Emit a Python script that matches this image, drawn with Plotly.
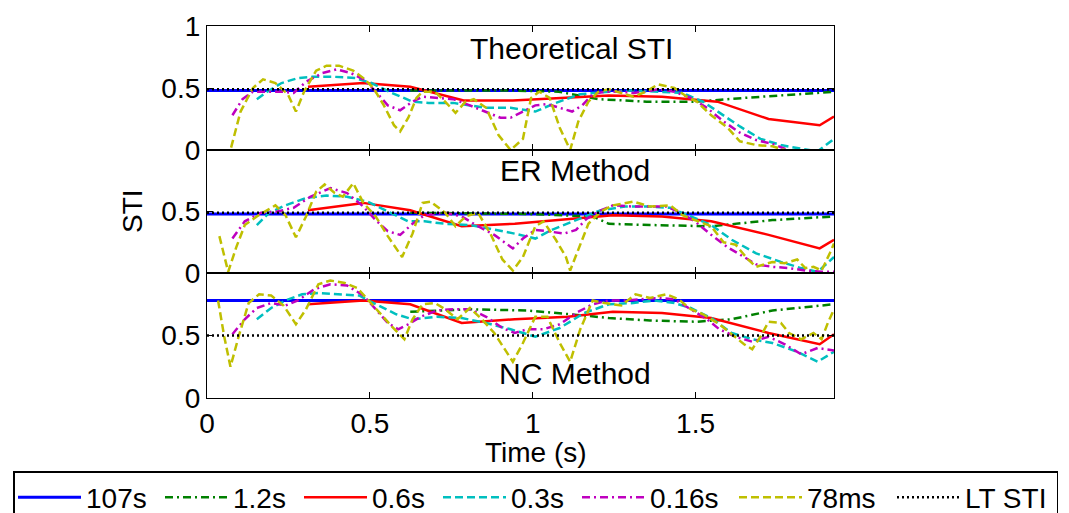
import plotly.graph_objects as go
from plotly.subplots import make_subplots

# ---------------- data ----------------
T_END = 1.925
blue_t = [0.0, 0.5, 1.0, 1.5, 1.925]
blue_theo = [0.48, 0.48, 0.48, 0.48, 0.48]
blue_er = [0.48, 0.48, 0.48, 0.48, 0.48]
blue_nc = [0.78, 0.78, 0.78, 0.78, 0.78]
lt_theo = [0.49, 0.49, 0.49, 0.49, 0.49]
lt_er = [0.49, 0.49, 0.49, 0.49, 0.49]
lt_nc = [0.50, 0.50, 0.50, 0.50, 0.50]

# 1.2s window (green)
g_t_theo = [0.624, 0.93, 1.08, 1.20, 1.35, 1.50, 1.65, 1.80, 1.925]
g_theo = [0.48, 0.48, 0.47, 0.41, 0.39, 0.39, 0.42, 0.45, 0.47]
g_t_er = [0.624, 0.983, 1.184, 1.234, 1.360, 1.548, 1.736, 1.925]
g_er = [0.49, 0.48, 0.46, 0.40, 0.39, 0.38, 0.43, 0.46]
g_t_nc = [0.624, 0.807, 0.983, 1.083, 1.158, 1.234, 1.360, 1.504, 1.611, 1.736, 1.925]
g_nc = [0.69, 0.71, 0.70, 0.68, 0.66, 0.64, 0.62, 0.61, 0.63, 0.70, 0.75]

# 0.6s window (red)
r_t_theo = [0.310, 0.480, 0.624, 0.788, 0.939, 1.108, 1.234, 1.397, 1.485, 1.567, 1.724, 1.881, 1.925]
r_theo = [0.51, 0.54, 0.51, 0.40, 0.40, 0.42, 0.44, 0.43, 0.41, 0.39, 0.25, 0.20, 0.27]
r_t_er = [0.310, 0.480, 0.624, 0.782, 0.945, 1.108, 1.246, 1.397, 1.548, 1.724, 1.881, 1.925]
r_er = [0.51, 0.57, 0.51, 0.38, 0.40, 0.44, 0.47, 0.46, 0.42, 0.31, 0.20, 0.27]
r_t_nc = [0.310, 0.480, 0.624, 0.782, 0.945, 1.108, 1.246, 1.397, 1.548, 1.724, 1.881, 1.925]
r_nc = [0.75, 0.78, 0.75, 0.60, 0.63, 0.65, 0.69, 0.68, 0.64, 0.52, 0.43, 0.51]

# 0.3s window (cyan)
c_t_theo = [0.153, 0.185, 0.229, 0.279, 0.323, 0.392, 0.455, 0.505, 0.568, 0.631, 0.681, 0.756,
            0.857, 0.932, 1.008, 1.071, 1.146, 1.234, 1.309, 1.397, 1.460, 1.523, 1.586, 1.636,
            1.699, 1.762, 1.824, 1.875, 1.925]
c_theo = [0.41, 0.47, 0.54, 0.58, 0.59, 0.59, 0.58, 0.54, 0.46, 0.39, 0.38, 0.38,
          0.34, 0.34, 0.31, 0.38, 0.45, 0.47, 0.48, 0.47, 0.46, 0.39, 0.28, 0.19,
          0.09, 0.04, 0.01, -0.01, 0.09]
c_t_er = [0.153, 0.191, 0.241, 0.304, 0.367, 0.430, 0.493, 0.555, 0.618, 0.668, 0.731, 0.807,
          0.882, 0.945, 1.008, 1.058, 1.133, 1.209, 1.284, 1.360, 1.422, 1.485, 1.548, 1.611,
          1.686, 1.762, 1.824, 1.875, 1.925]
c_er = [0.39, 0.49, 0.55, 0.61, 0.63, 0.62, 0.58, 0.50, 0.42, 0.42, 0.40, 0.39,
        0.35, 0.32, 0.28, 0.35, 0.43, 0.51, 0.54, 0.54, 0.53, 0.46, 0.39, 0.27,
        0.16, 0.09, 0.04, 0.01, 0.13]
c_t_nc = [0.153, 0.197, 0.241, 0.292, 0.342, 0.405, 0.467, 0.518, 0.581, 0.631, 0.706, 0.782,
          0.857, 0.932, 1.008, 1.083, 1.158, 1.234, 1.309, 1.372, 1.435, 1.485, 1.548, 1.611,
          1.674, 1.736, 1.812, 1.875, 1.925]
c_nc = [0.63, 0.72, 0.78, 0.83, 0.84, 0.83, 0.82, 0.75, 0.67, 0.63, 0.65, 0.64,
        0.60, 0.55, 0.49, 0.56, 0.68, 0.75, 0.76, 0.78, 0.76, 0.72, 0.64, 0.52,
        0.47, 0.44, 0.37, 0.29, 0.37]

# 0.16s window (magenta)
m_t_theo = [0.078, 0.109, 0.141, 0.178, 0.229, 0.266, 0.304, 0.354, 0.398, 0.442, 0.480, 0.518,
            0.555, 0.593, 0.631, 0.662, 0.706, 0.756, 0.807, 0.857, 0.901, 0.932, 0.970, 1.008,
            1.045, 1.083, 1.121, 1.152, 1.184, 1.221, 1.272, 1.309, 1.347, 1.385, 1.435, 1.485,
            1.535, 1.586, 1.636, 1.686, 1.736, 1.774, 1.799]
m_theo = [0.28, 0.41, 0.47, 0.47, 0.47, 0.46, 0.55, 0.62, 0.65, 0.62, 0.57, 0.47,
          0.36, 0.32, 0.39, 0.43, 0.42, 0.41, 0.36, 0.31, 0.26, 0.26, 0.31, 0.36,
          0.37, 0.34, 0.31, 0.36, 0.45, 0.47, 0.47, 0.46, 0.47, 0.49, 0.47, 0.42,
          0.34, 0.23, 0.14, 0.08, 0.05, 0.01, -0.01]
m_t_er = [0.078, 0.116, 0.166, 0.216, 0.266, 0.317, 0.379, 0.430, 0.480, 0.518, 0.555, 0.593,
          0.631, 0.668, 0.731, 0.782, 0.832, 0.882, 0.939, 0.970, 1.008, 1.045, 1.096, 1.133,
          1.165, 1.209, 1.246, 1.309, 1.360, 1.410, 1.448, 1.498, 1.548, 1.598, 1.649, 1.686,
          1.736, 1.787, 1.837, 1.887, 1.925]
m_er = [0.28, 0.42, 0.49, 0.50, 0.53, 0.62, 0.69, 0.65, 0.54, 0.43, 0.34, 0.31,
        0.40, 0.47, 0.49, 0.46, 0.38, 0.31, 0.20, 0.28, 0.35, 0.34, 0.32, 0.35,
        0.44, 0.51, 0.55, 0.54, 0.54, 0.54, 0.50, 0.42, 0.31, 0.21, 0.13, 0.07,
        0.05, 0.04, 0.02, 0.01, 0.01]
m_t_nc = [0.078, 0.116, 0.153, 0.197, 0.241, 0.279, 0.329, 0.379, 0.430, 0.480, 0.518, 0.555,
          0.587, 0.618, 0.656, 0.706, 0.756, 0.807, 0.857, 0.907, 0.945, 0.983, 1.033, 1.083,
          1.133, 1.184, 1.234, 1.284, 1.334, 1.385, 1.435, 1.485, 1.535, 1.573, 1.623, 1.674,
          1.724, 1.774, 1.824, 1.875, 1.925]
m_nc = [0.51, 0.63, 0.72, 0.76, 0.74, 0.78, 0.87, 0.91, 0.90, 0.82, 0.71, 0.60,
        0.55, 0.59, 0.65, 0.70, 0.71, 0.71, 0.65, 0.56, 0.52, 0.55, 0.55, 0.59,
        0.68, 0.75, 0.78, 0.78, 0.79, 0.80, 0.79, 0.71, 0.63, 0.55, 0.49, 0.45,
        0.49, 0.43, 0.35, 0.40, 0.38]

# 78ms window (yellow)
y_t_theo = [0.039, 0.072, 0.103, 0.141, 0.172, 0.210, 0.248, 0.273, 0.298, 0.335, 0.367, 0.405,
            0.449, 0.480, 0.511, 0.543, 0.574, 0.593, 0.618, 0.643, 0.662, 0.700, 0.731, 0.763,
            0.794, 0.819, 0.857, 0.895, 0.932, 0.970, 0.995, 1.020, 1.052, 1.083, 1.115, 1.140,
            1.171, 1.202, 1.234, 1.272, 1.309, 1.347, 1.385, 1.435, 1.473, 1.504, 1.548, 1.598,
            1.636, 1.686, 1.736, 1.774, 1.82]
y_theo = [-0.15, 0.00, 0.31, 0.50, 0.57, 0.54, 0.45, 0.31, 0.47, 0.64, 0.68, 0.68,
          0.64, 0.58, 0.50, 0.36, 0.20, 0.15, 0.26, 0.42, 0.47, 0.47, 0.39, 0.30,
          0.39, 0.41, 0.34, 0.12, 0.00, 0.09, 0.42, 0.47, 0.42, 0.18, 0.00, 0.23,
          0.39, 0.47, 0.49, 0.46, 0.43, 0.47, 0.53, 0.50, 0.43, 0.39, 0.28, 0.18,
          0.07, 0.04, 0.03, 0.00, -0.04]
y_t_er = [0.038, 0.065, 0.090, 0.116, 0.153, 0.210, 0.241, 0.273, 0.304, 0.335, 0.361, 0.392,
          0.417, 0.449, 0.480, 0.518, 0.555, 0.599, 0.631, 0.662, 0.687, 0.731, 0.763, 0.794,
          0.832, 0.870, 0.907, 0.939, 0.970, 1.008, 1.033, 1.071, 1.102, 1.115, 1.140, 1.171,
          1.209, 1.246, 1.309, 1.360, 1.422, 1.460, 1.498, 1.548, 1.586, 1.623, 1.661, 1.686,
          1.736, 1.774, 1.812, 1.837, 1.862, 1.887, 1.912, 1.925]
y_er = [0.30, 0.01, 0.21, 0.39, 0.46, 0.55, 0.47, 0.29, 0.46, 0.66, 0.72, 0.65,
        0.62, 0.73, 0.57, 0.46, 0.30, 0.13, 0.32, 0.57, 0.58, 0.49, 0.38, 0.46,
        0.49, 0.32, 0.11, 0.02, 0.13, 0.38, 0.42, 0.27, 0.13, 0.02, 0.19, 0.40,
        0.50, 0.55, 0.58, 0.54, 0.55, 0.47, 0.43, 0.38, 0.25, 0.23, 0.11, 0.05,
        0.09, 0.08, 0.11, 0.04, 0.05, 0.02, 0.16, 0.24]
y_t_nc = [0.034, 0.053, 0.072, 0.097, 0.128, 0.160, 0.197, 0.235, 0.273, 0.304, 0.342, 0.379,
          0.423, 0.461, 0.493, 0.530, 0.568, 0.606, 0.631, 0.662, 0.700, 0.731, 0.769, 0.807,
          0.844, 0.882, 0.913, 0.939, 0.970, 1.008, 1.045, 1.083, 1.115, 1.146, 1.184, 1.221,
          1.272, 1.316, 1.360, 1.410, 1.448, 1.485, 1.523, 1.573, 1.611, 1.649, 1.674, 1.699,
          1.724, 1.762, 1.787, 1.824, 1.862, 1.887, 1.906, 1.925]
y_nc = [0.78, 0.49, 0.25, 0.49, 0.76, 0.83, 0.82, 0.74, 0.59, 0.71, 0.91, 0.94,
        0.92, 0.88, 0.79, 0.68, 0.57, 0.47, 0.63, 0.75, 0.76, 0.71, 0.63, 0.72,
        0.63, 0.52, 0.39, 0.29, 0.44, 0.65, 0.65, 0.44, 0.29, 0.55, 0.78, 0.76,
        0.74, 0.83, 0.80, 0.83, 0.79, 0.71, 0.67, 0.59, 0.51, 0.43, 0.39, 0.49,
        0.61, 0.60, 0.52, 0.47, 0.52, 0.47, 0.60, 0.71]

legend_names = ["107s", "1.2s", "0.6s", "0.3s", "0.16s", "78ms", "LT STI"]
panel_titles = ["Theoretical STI", "ER Method", "NC Method"]
x_ticks = [0, 0.5, 1, 1.5]
x_ticktext = ["0", "0.5", "1", "1.5"]

# ---------------- styling ----------------
FONT = "Liberation Sans, Arial, Helvetica, sans-serif"
W, HGT = 1069, 513
PL, PR, PT, PB = 207, 834, 26, 398     # plot-area pixel box
H = float(PB - PT)

styles = [
    dict(color="#0000FF", width=3, dash="solid"),
    dict(color="#008000", width=2.5, dash="8px,4px,2px,4px"),
    dict(color="#FF0000", width=2.5, dash="solid"),
    dict(color="#00BFBF", width=2.5, dash="8px,4px"),
    dict(color="#BF00BF", width=2.5, dash="8px,4px,2px,4px"),
    dict(color="#BFBF00", width=2.5, dash="8px,4px"),
    dict(color="#000000", width=2.5, dash="2px,3px"),
]
legend_widths = [69, 61, 61, 61, 79, 80, 86]

panels = [
    [(blue_t, blue_theo), (g_t_theo, g_theo), (r_t_theo, r_theo), (c_t_theo, c_theo),
     (m_t_theo, m_theo), (y_t_theo, y_theo), (blue_t, lt_theo)],
    [(blue_t, blue_er), (g_t_er, g_er), (r_t_er, r_er), (c_t_er, c_er),
     (m_t_er, m_er), (y_t_er, y_er), (blue_t, lt_er)],
    [(blue_t, blue_nc), (g_t_nc, g_nc), (r_t_nc, r_nc), (c_t_nc, c_nc),
     (m_t_nc, m_nc), (y_t_nc, y_nc), (blue_t, lt_nc)],
]

fig = make_subplots(rows=3, cols=1, shared_xaxes=False, vertical_spacing=0)

for p, series in enumerate(panels):
    for i, (tx, vy) in enumerate(series):
        fig.add_trace(go.Scatter(
            x=tx, y=vy, mode="lines", name=legend_names[i],
            line=styles[i], showlegend=(p == 0), legendgroup=legend_names[i],
            legendwidth=legend_widths[i],
        ), row=p + 1, col=1)

doms = [[248 / H, 1.0], [125 / H, 248 / H], [0.0, 125 / H]]
ytick_sets = [[0, 0.5, 1], [0, 0.5], [0, 0.5]]
ytick_txt = [["0", "0.5", "1"], ["0", "0.5"], ["0", "0.5"]]
xdom = [PL / W, PR / W]

for p in range(3):
    xa = "xaxis" if p == 0 else f"xaxis{p+1}"
    ya = "yaxis" if p == 0 else f"yaxis{p+1}"
    fig.layout[xa].update(
        range=[0, T_END], domain=xdom, tickvals=x_ticks, ticktext=x_ticktext,
        showticklabels=(p == 2), ticks="inside", ticklen=6, tickwidth=1,
        tickcolor="black", showline=True, linecolor="black", linewidth=1.2,
        mirror="ticks", showgrid=False, zeroline=False,
        tickfont=dict(size=28, color="black", family=FONT),
    )
    fig.layout[ya].update(
        range=[0, 1], domain=doms[p], tickvals=ytick_sets[p], ticktext=ytick_txt[p],
        ticks="inside", ticklen=6, tickwidth=1, tickcolor="black",
        showline=True, linecolor="black", linewidth=1.2, mirror="ticks",
        showgrid=False, zeroline=False,
        tickfont=dict(size=28, color="black", family=FONT),
    )

ann_pos = [(1.118, 0.815, "x", "y"), (1.13, 0.83, "x2", "y2"), (1.13, 0.197, "x3", "y3")]
for k, (ax_, ay_, xr, yr) in enumerate(ann_pos):
    fig.add_annotation(x=ax_, y=ay_, xref=xr, yref=yr, text=panel_titles[k],
                       xanchor="center", yanchor="middle",
                       showarrow=False, font=dict(size=30, color="black", family=FONT))

fig.add_annotation(x=536 / W, y=-(452 - PB) / H, xref="paper", yref="paper",
                   text="Time (s)", showarrow=False, xanchor="center", yanchor="middle",
                   font=dict(size=28, color="black", family=FONT))
fig.add_annotation(x=132 / W, y=(PB - 211) / H, xref="paper", yref="paper",
                   text="STI", textangle=-90, showarrow=False,
                   xanchor="center", yanchor="middle",
                   font=dict(size=28, color="black", family=FONT))

fig.update_layout(
    width=W, height=HGT,
    margin=dict(l=0, r=0, t=PT, b=HGT - PB, autoexpand=False),
    paper_bgcolor="white", plot_bgcolor="white",
    font=dict(family=FONT, color="black", size=28),
    legend=dict(
        orientation="h", x=13 / W, y=-(471 - PB) / H,
        xanchor="left", yanchor="top", bordercolor="black", borderwidth=1.5,
        bgcolor="white", font=dict(size=28, family=FONT, color="black"),
        itemwidth=63, tracegroupgap=0, entrywidthmode="pixels",
    ),
)

fig.write_html("out.html")
